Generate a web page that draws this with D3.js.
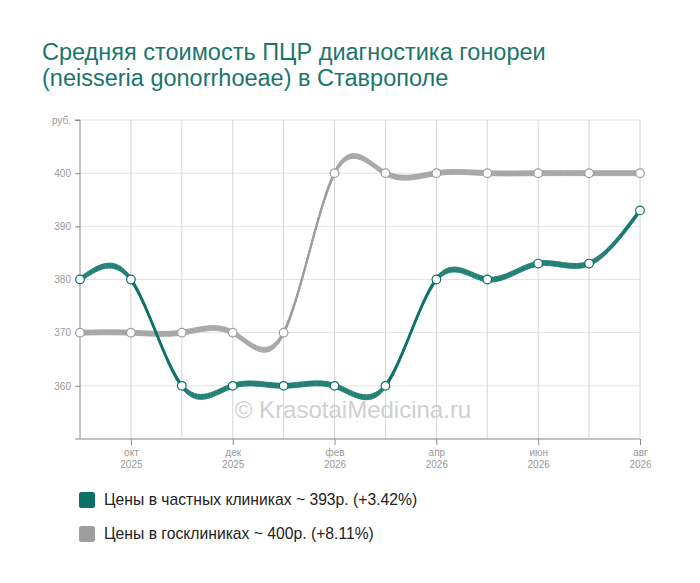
<!DOCTYPE html>
<html><head><meta charset="utf-8">
<script src="https://cdn.jsdelivr.net/npm/d3@7"></script>
<style>body{margin:0;background:#fff;font-family:"Liberation Sans",Arial,sans-serif}</style>
</head><body><svg id="c" width="700" height="583"></svg>
<script>
const months = ["2025-09","2025-10","2025-11","2025-12","2026-01","2026-02","2026-03","2026-04","2026-05","2026-06","2026-07","2026-08"];
const tickLabels = {"2025-10":["окт","2025"],"2025-12":["дек","2025"],"2026-02":["фев","2026"],"2026-04":["апр","2026"],"2026-06":["июн","2026"],"2026-08":["авг","2026"]};
const privatePrices = [380,380,360,360,360,360,360,380,380,383,383,393];
const statePrices = [370,370,370,370,370,400,400,400,400,400,400,400];
const yTicks = [360,370,380,390,400];
const seriesNames = ["Цены в частных клиниках ~ 393р. (+3.42%)","Цены в госклиниках ~ 400р. (+8.11%)"];
const colors = ["#0b7167","#9e9e9e"];

const svg = d3.select("#c");
const L=80,R=640,T=120,B=439;
const x = d3.scalePoint().domain(months).range([L,R]);
const y = d3.scaleLinear().domain([350,410]).range([B,T]);

// title
const title = svg.append("text").attr("x",42).attr("fill","#1a766c").style("font-size","23.5px");
title.append("tspan").attr("x",42).attr("y",60).text("Средняя стоимость ПЦР диагностика гонореи");
title.append("tspan").attr("x",42).attr("y",86).text("(neisseria gonorrhoeae) в Ставрополе");

// grid
const g = svg.append("g");
g.selectAll(".hg").data(yTicks.concat([410])).join("line")
 .attr("x1",L).attr("x2",R).attr("y1",d=>y(d)).attr("y2",d=>y(d)).attr("stroke","#e2e2e2").attr("stroke-width",1);
g.selectAll(".vg").data(months.slice(1)).join("line")
 .attr("x1",d=>x(d)).attr("x2",d=>x(d)).attr("y1",T).attr("y2",B).attr("stroke","#d6d6d6").attr("stroke-width",1);

// y axis
const ya = svg.append("g").attr("transform",`translate(${L},0)`)
 .call(d3.axisLeft(y).tickValues(yTicks.concat([410])).tickSize(5).tickFormat(d=>d===410?"руб.":d));
ya.select(".domain").attr("stroke","#8a8a8a").attr("d",`M-5,${T}H0V${B}`);
ya.selectAll(".tick line").attr("stroke","#8a8a8a");
ya.selectAll(".tick text").attr("fill","#999").style("font-size","10px").style("font-family","Liberation Sans, Arial").attr("x",-9);

// x axis
const xa = svg.append("g").attr("transform",`translate(0,${B})`)
 .call(d3.axisBottom(x).tickValues(Object.keys(tickLabels)).tickSize(6).tickFormat(""));
xa.select(".domain").attr("stroke","#8a8a8a").attr("d",`M75,0H${R}`);
xa.selectAll(".tick line").attr("stroke","#8a8a8a");
xa.selectAll(".tick").each(function(d){
  const t=d3.select(this).append("text").attr("fill","#999").attr("text-anchor","middle").style("font-size","10px").style("font-family","Liberation Sans, Arial");
  t.append("tspan").attr("x",0).attr("y",17).text(tickLabels[d][0]);
  t.append("tspan").attr("x",0).attr("y",29).text(tickLabels[d][1]);
});

// watermark
svg.append("text").attr("x",353).attr("y",418).attr("text-anchor","middle").attr("fill","#d0d0d0").style("font-size","24px").text("© KrasotaiMedicina.ru");

// lines
const series = [privatePrices, statePrices];
[1,0].forEach(i=>{
  const data = series[i];
  for(let dy=-2.5; dy<=2.5; dy+=0.5){
    const line = d3.line().x((d,j)=>x(months[j])).y(d=>y(d)+dy).curve(d3.curveNatural);
    svg.append("path").attr("d",line(data)).attr("fill","none").attr("stroke",colors[i]).attr("stroke-width",0.9).attr("opacity",0.85);
  }
  svg.append("g").selectAll("circle").data(data).join("circle")
   .attr("cx",(d,j)=>x(months[j])).attr("cy",d=>y(d)).attr("r",4.3)
   .attr("fill","#fff").attr("stroke",colors[i]).attr("stroke-width",1.2);
});

// legend
seriesNames.forEach((n,i)=>{
  const yy = 492 + i*34;
  svg.append("rect").attr("x",79).attr("y",yy).attr("width",16).attr("height",16).attr("rx",2.5).attr("fill",colors[i]);
  svg.append("text").attr("x",104).attr("y",yy+13).attr("fill","#222").style("font-size","15.7px").text(n);
});
</script></body></html>
